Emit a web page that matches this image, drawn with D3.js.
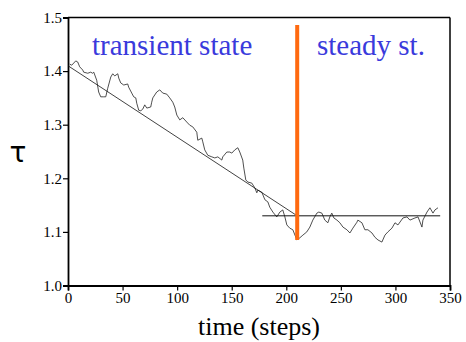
<!DOCTYPE html>
<html>
<head>
<meta charset="utf-8">
<script src="https://cdn.jsdelivr.net/npm/d3@7"></script>
</head>
<body style="margin:0">
<svg id="chart" width="466" height="342" font-family="Liberation Serif"></svg>
<script>
// time steps and tau
const steps = [1.6, 3.4, 7.1, 8.9, 10.7, 13.5, 14.4, 18.1, 20.8, 22.6, 23.6, 26.3, 28.1, 30.0, 32.7, 34.6, 36.4, 39.2, 41.0, 42.8,
  45.6, 46.5, 48.3, 51.1, 54.7, 55.6, 58.4, 60.2, 62.1, 63.0, 64.8, 66.7, 68.5, 70.3, 72.2, 75.8, 76.7, 77.7, 81.3, 84.1,
  86.8, 90.5, 93.2, 96.0, 97.8, 99.7, 102.4, 105.2, 108.8, 111.6, 114.3, 118.0, 118.9, 122.6, 123.5, 125.3, 128.1, 131.8, 134.5, 137.3,
  140.9, 141.8, 145.5, 148.2, 150.1, 152.8, 155.6, 157.4, 160.1, 161.1, 162.9, 164.8, 168.4, 171.2, 173.0, 173.9, 177.6, 180.4, 183.1, 184.9,
  187.7, 191.3, 194.1, 196.8, 198.7, 200.5, 203.2, 206.0, 209.7, 212.4, 215.2, 218.8, 221.6, 224.3, 228.0, 229.8, 232.6, 235.3, 238.1, 239.9,
  241.7, 243.6, 246.4, 249.1, 251.9, 255.5, 258.3, 261.0, 264.7, 265.6, 269.3, 272.0, 274.8, 278.5, 281.2, 284.0, 287.6, 290.4, 293.1, 296.8,
  299.6, 302.3, 306.9, 310.6, 313.3, 317.9, 320.7, 324.3, 325.2, 328.9, 331.6, 334.4, 336.2, 339.0];
const tau = [1.413, 1.411, 1.419, 1.417, 1.408, 1.402, 1.398, 1.396, 1.398, 1.396, 1.398, 1.383, 1.361, 1.352, 1.352, 1.352, 1.368, 1.389, 1.395, 1.391,
  1.395, 1.387, 1.378, 1.374, 1.376, 1.370, 1.359, 1.352, 1.350, 1.340, 1.327, 1.326, 1.329, 1.337, 1.331, 1.333, 1.342, 1.350, 1.361, 1.365,
  1.359, 1.357, 1.350, 1.342, 1.333, 1.318, 1.309, 1.313, 1.305, 1.299, 1.296, 1.286, 1.271, 1.275, 1.268, 1.253, 1.243, 1.240, 1.238, 1.240,
  1.234, 1.240, 1.249, 1.249, 1.247, 1.253, 1.257, 1.249, 1.234, 1.219, 1.197, 1.193, 1.191, 1.182, 1.173, 1.178, 1.174, 1.160, 1.156, 1.146,
  1.137, 1.128, 1.137, 1.141, 1.128, 1.113, 1.107, 1.104, 1.085, 1.089, 1.094, 1.100, 1.109, 1.122, 1.135, 1.137, 1.135, 1.122, 1.117, 1.128,
  1.135, 1.126, 1.122, 1.117, 1.109, 1.104, 1.098, 1.107, 1.118, 1.122, 1.117, 1.104, 1.104, 1.098, 1.090, 1.085, 1.081, 1.094, 1.100, 1.107,
  1.117, 1.113, 1.126, 1.128, 1.122, 1.126, 1.128, 1.109, 1.122, 1.137, 1.145, 1.135, 1.141, 1.145];

// linear fit for the transient part, mean for the steady part
const fitT = [0, 210];
const fitTau = [1.41, 1.13];
const steadyT = [178, 341];
const steadyTau = 1.13;
// boundary between the two regimes
const splitT = 210;
const splitTau = [1.085, 1.486];

const xTicks = [0, 50, 100, 150, 200, 250, 300, 350];
const yTicks = [1.0, 1.1, 1.2, 1.3, 1.4, 1.5];

const width = 466, height = 342;
const margin = {left: 68, right: 16, top: 17.5, bottom: 56.5};

const svg = d3.select("#chart");

const x = d3.scaleLinear().domain([0, 350]).range([margin.left, width - margin.right]);
const y = d3.scaleLinear().domain([1.0, 1.5]).range([height - margin.bottom, margin.top]);

// frame on top and right
svg.append("line")
  .attr("x1", x(0)).attr("x2", x(350)).attr("y1", y(1.5)).attr("y2", y(1.5))
  .attr("stroke", "#000").attr("stroke-width", 1.5);
svg.append("line")
  .attr("x1", x(350)).attr("x2", x(350)).attr("y1", y(1.5)).attr("y2", y(1.0))
  .attr("stroke", "#000").attr("stroke-width", 1.5);

// minor ticks then major ticks
const gx = svg.append("g").attr("transform", `translate(0,${y(1.0)})`);
gx.call(d3.axisBottom(x).tickValues(d3.range(25, 350, 50)).tickSize(3).tickFormat(""));
gx.call(d3.axisBottom(x).tickValues(xTicks).tickSize(5).tickPadding(2).tickFormat(d3.format("d")));
const gy = svg.append("g").attr("transform", `translate(${x(0)},0)`);
gy.call(d3.axisLeft(y).tickValues(d3.range(1.05, 1.5, 0.1)).tickSize(3).tickFormat(""));
gy.call(d3.axisLeft(y).tickValues(yTicks).tickSize(5).tickPadding(1).tickFormat(d3.format(".1f")));

gx.attr("font-family", "Liberation Serif").attr("font-size", 15);
gy.attr("font-family", "Liberation Serif").attr("font-size", 15);
svg.selectAll(".domain").attr("stroke-width", 1.8);
svg.selectAll(".tick line").attr("stroke-width", 1.2);
svg.selectAll(".tick text").attr("fill", "#000").attr("font-family", "Liberation Serif");

// data
const line = d3.line().x(d => x(d[0])).y(d => y(d[1]));
svg.append("path")
  .datum(d3.zip(steps, tau))
  .attr("d", line)
  .attr("fill", "none")
  .attr("stroke", "#222")
  .attr("stroke-width", 0.8);

svg.append("path")
  .datum(d3.zip(fitT, fitTau))
  .attr("d", line)
  .attr("fill", "none")
  .attr("stroke", "#111")
  .attr("stroke-width", 0.8);

svg.append("path")
  .datum(steadyT.map(t => [t, steadyTau]))
  .attr("d", line)
  .attr("fill", "none")
  .attr("stroke", "#111")
  .attr("stroke-width", 1);

svg.append("path")
  .datum(splitTau.map(v => [splitT, v]))
  .attr("d", line)
  .attr("fill", "none")
  .attr("stroke", "#ff6a10")
  .attr("stroke-width", 4);

// labels
svg.append("text")
  .attr("x", 92).attr("y", 55)
  .attr("font-family", "Liberation Serif")
  .attr("font-size", 29)
  .attr("fill", "#3a3adc")
  .text("transient state");
svg.append("text")
  .attr("x", 317).attr("y", 55)
  .attr("font-family", "Liberation Serif")
  .attr("font-size", 29)
  .attr("fill", "#3a3adc")
  .text("steady st.");

svg.append("text")
  .attr("x", (x(0) + x(350)) / 2).attr("y", 335)
  .attr("text-anchor", "middle")
  .attr("font-family", "Liberation Serif")
  .attr("font-size", 26)
  .text("time (steps)");

svg.append("text")
  .attr("x", 18).attr("y", 162)
  .attr("text-anchor", "middle")
  .attr("font-family", "DejaVu Sans")
  .attr("font-size", 28)
  .text("τ");
</script>
</body>
</html>
